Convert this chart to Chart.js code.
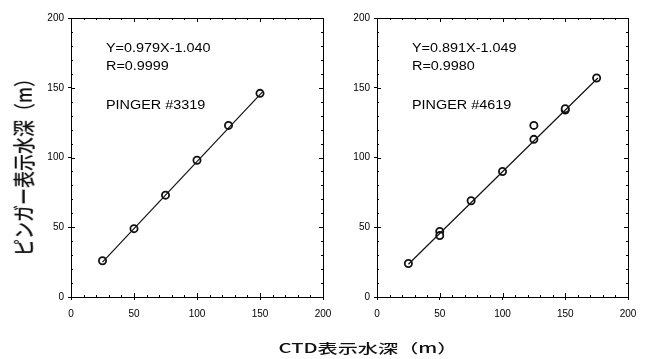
<!DOCTYPE html>
<html>
<head>
<meta charset="utf-8">
<script src="https://cdn.jsdelivr.net/npm/chart.js@4"></script>
<style>
    body { margin: 0; background: #fff; }
    #wrap { position: relative; width: 646px; height: 359px; overflow: hidden; }
    canvas { position: absolute; left: 0; top: 0; }
    .title { position: absolute; white-space: nowrap; font-family: "Noto Sans CJK JP", sans-serif; font-weight: 500; color: #111; }
</style>
</head>
<body>
<div id="wrap">
    <canvas id="leftChart" width="646" height="359"></canvas>
    <canvas id="rightChart" width="646" height="359"></canvas>
    <div class="title" id="yTitle">ピンガー表示水深（m）</div>
    <div class="title" id="xTitle">CTD表示水深（m）</div>
</div>
<script>
// values
const axisTicks = [0, 50, 100, 150, 200];

const ctd3319 = [25, 50, 75, 100, 125, 150];
const pinger3319 = [26, 49, 73, 98, 123, 146];
const fitX3319 = [25, 152];
const fitY3319 = [25, 147];
const notes3319 = ['Y=0.979X-1.040', 'R=0.9999', 'PINGER #3319'];

const ctd4619 = [25, 50, 50, 75, 100, 125, 125, 150, 150, 175];
const pinger4619 = [24, 47, 44, 69, 90, 113, 123, 134, 135, 157];
const fitX4619 = [25, 176];
const fitY4619 = [23.5, 157];
const notes4619 = ['Y=0.891X-1.049', 'R=0.9980', 'PINGER #4619'];

function pairs(xs, ys) {
    return xs.map((x, i) => ({ x: x, y: ys[i] }));
}

// box, minor ticks and the text block inside the plot
const framePlugin = {
    id: 'frame',
    afterDraw(chart) {
        const ctx = chart.ctx;
        const a = chart.chartArea;
        const xs = chart.scales.x;
        const ys = chart.scales.y;
        ctx.save();
        ctx.strokeStyle = '#000';
        ctx.lineWidth = 1;
        ctx.strokeRect(Math.round(a.left) + 0.5, Math.round(a.top) + 0.5, Math.round(a.right - a.left), Math.round(a.bottom - a.top));
        ctx.beginPath();
        for (let v = 10; v < 200; v += 10) {
            const len = v % 50 === 0 ? 4 : 2;
            const px = Math.round(xs.getPixelForValue(v)) + 0.5;
            ctx.moveTo(px, a.bottom); ctx.lineTo(px, a.bottom - len);
            ctx.moveTo(px, a.top); ctx.lineTo(px, a.top + len);
            const py = Math.round(ys.getPixelForValue(v)) + 0.5;
            ctx.moveTo(a.left, py); ctx.lineTo(a.left + len, py);
            ctx.moveTo(a.right, py); ctx.lineTo(a.right - len, py);
        }
        ctx.stroke();

        const notes = chart.options.plugins.frame.notes;
        ctx.fillStyle = '#000';
        ctx.font = '12px "Liberation Sans", Arial, sans-serif';
        ctx.textBaseline = 'middle';
        const lineY = [49, 67, 106];
        notes.forEach((t, i) => {
            ctx.save();
            ctx.translate(a.left + 35, lineY[i]);
            ctx.scale(1.2, 1);
            ctx.fillText(t, 0, 0);
            ctx.restore();
        });
        ctx.restore();
    }
};

function makeChart(id, xs, ys, fx, fy, notes, padLeft, padRight) {
    const tickFont = { family: '"Liberation Sans", Arial, sans-serif', size: 10 };
    return new Chart(document.getElementById(id), {
        type: 'scatter',
        data: {
            datasets: [{
                type: 'line',
                data: pairs(fx, fy),
                borderColor: '#111',
                borderWidth: 1.2,
                pointRadius: 0,
                fill: false
            }, {
                data: pairs(xs, ys),
                pointStyle: 'circle',
                pointRadius: 3.6,
                pointBorderWidth: 1.8,
                pointBorderColor: '#111',
                pointBackgroundColor: '#fff'
            }]
        },
        options: {
            responsive: false,
            animation: false,
            layout: { padding: { left: padLeft, right: padRight, top: 18, bottom: 0 } },
            plugins: {
                legend: { display: false },
                tooltip: { enabled: false },
                frame: { notes: notes }
            },
            scales: {
                x: {
                    type: 'linear',
                    min: 0,
                    max: 200,
                    afterBuildTicks: s => { s.ticks = axisTicks.map(v => ({ value: v })); },
                    afterFit: s => { s.height = 62; },
                    ticks: { color: '#000', font: tickFont, padding: 8, maxRotation: 0 },
                    grid: { drawOnChartArea: false, drawTicks: true, tickLength: 3, color: '#000' },
                    border: { display: true, color: '#000' }
                },
                y: {
                    type: 'linear',
                    min: 0,
                    max: 200,
                    afterBuildTicks: s => { s.ticks = axisTicks.map(v => ({ value: v })); },
                    afterFit: s => { s.width = 71; },
                    ticks: { color: '#000', font: tickFont, padding: 4 },
                    grid: { drawOnChartArea: false, drawTicks: true, tickLength: 3, color: '#000' },
                    border: { display: true, color: '#000' }
                }
            }
        },
        plugins: [framePlugin]
    });
}

makeChart('leftChart', ctd3319, pinger3319, fitX3319, fitY3319, notes3319, 0, 323);
makeChart('rightChart', ctd4619, pinger4619, fitX4619, fitY4619, notes4619, 306, 18);

const yTitle = document.getElementById('yTitle');
yTitle.style.fontSize = '17px';
yTitle.style.left = '22px';
yTitle.style.top = '163px';
yTitle.style.transform = 'translate(-50%, -50%) scaleX(1.3) rotate(-90deg)';

const xTitle = document.getElementById('xTitle');
xTitle.style.fontSize = '13px';
xTitle.style.left = '368px';
xTitle.style.top = '347px';
xTitle.style.transform = 'translate(-50%, -50%) scaleX(1.55)';
</script>
</body>
</html>
